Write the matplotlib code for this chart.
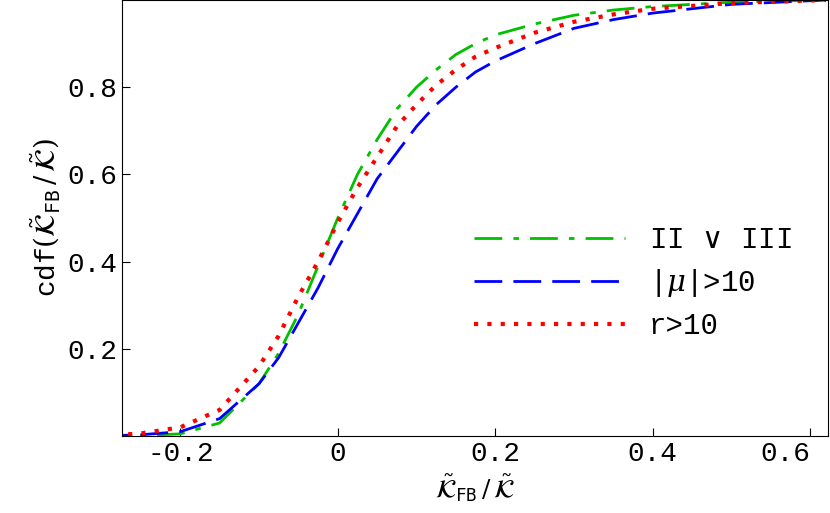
import matplotlib
matplotlib.use("Agg")
import matplotlib.pyplot as plt

x = [-0.3, -0.25, -0.2, -0.15, -0.1, -0.075, -0.05, -0.025, 0.0, 0.025, 0.05, 0.075, 0.1, 0.125, 0.15, 0.175, 0.2, 0.25, 0.3, 0.35, 0.4, 0.5, 0.62]
green = [0.0, 0.001, 0.005, 0.03, 0.12, 0.19, 0.28, 0.39, 0.5, 0.6, 0.68, 0.75, 0.8, 0.84, 0.875, 0.9, 0.92, 0.945, 0.965, 0.977, 0.985, 0.995, 1.0]
blue = [0.0, 0.003, 0.01, 0.04, 0.12, 0.18, 0.26, 0.34, 0.43, 0.51, 0.59, 0.65, 0.71, 0.76, 0.8, 0.835, 0.86, 0.9, 0.935, 0.955, 0.97, 0.99, 1.0]
red = [0.0, 0.006, 0.02, 0.06, 0.16, 0.23, 0.32, 0.4, 0.49, 0.57, 0.64, 0.71, 0.76, 0.805, 0.84, 0.87, 0.89, 0.925, 0.95, 0.967, 0.98, 0.993, 1.0]
labels = ["II $\\vee$ III", "|$\\mu$|>10", "r>10"]
xticks = [-0.2, 0, 0.2, 0.4, 0.6]
yticks = [0.2, 0.4, 0.6, 0.8]

plt.rcParams["font.family"] = "Liberation Mono"
plt.rcParams["mathtext.fontset"] = "dejavuserif"
fig = plt.figure(figsize=(8.3, 5.13), dpi=100)
ax = fig.add_axes([0.147, 0.15, 0.851, 0.85])
ax.plot(x, green, color="#00c000", lw=2, dashes=(10, 4, 2, 4), label=labels[0])
ax.plot(x, blue, color="#0000ff", lw=2, dashes=(10, 4), label=labels[1])
ax.plot(x, red, color="#ff0000", lw=3, dashes=(1, 2.2), label=labels[2])
ax.set_xlim(-0.274, 0.623)
ax.set_ylim(0, 1.0)
ax.set_xticks(xticks)
ax.set_xticklabels(["-0.2", "0", "0.2", "0.4", "0.6"])
ax.set_yticks(yticks)
ax.set_yticklabels(["0.2", "0.4", "0.6", "0.8"])
ax.tick_params(direction="in", labelsize=20, length=6)
for lab in ax.get_xticklabels()[-1:]:
    lab.set_horizontalalignment("right")
    lab.set_x(0.623)
ax.set_xlabel(r"$\tilde{\mathcal{K}}_{\mathtt{FB}}\,/\,\tilde{\mathcal{K}}$", fontsize=18)
ax.set_ylabel(r"cdf$(\tilde{\mathcal{K}}_{\mathtt{FB}}\,/\,\tilde{\mathcal{K}})$", fontsize=20)
ax.legend(loc="lower right", bbox_to_anchor=(0.985, 0.16), frameon=False, fontsize=21,
          handlelength=5.2, labelspacing=0.45)
fig.savefig("out.png")
